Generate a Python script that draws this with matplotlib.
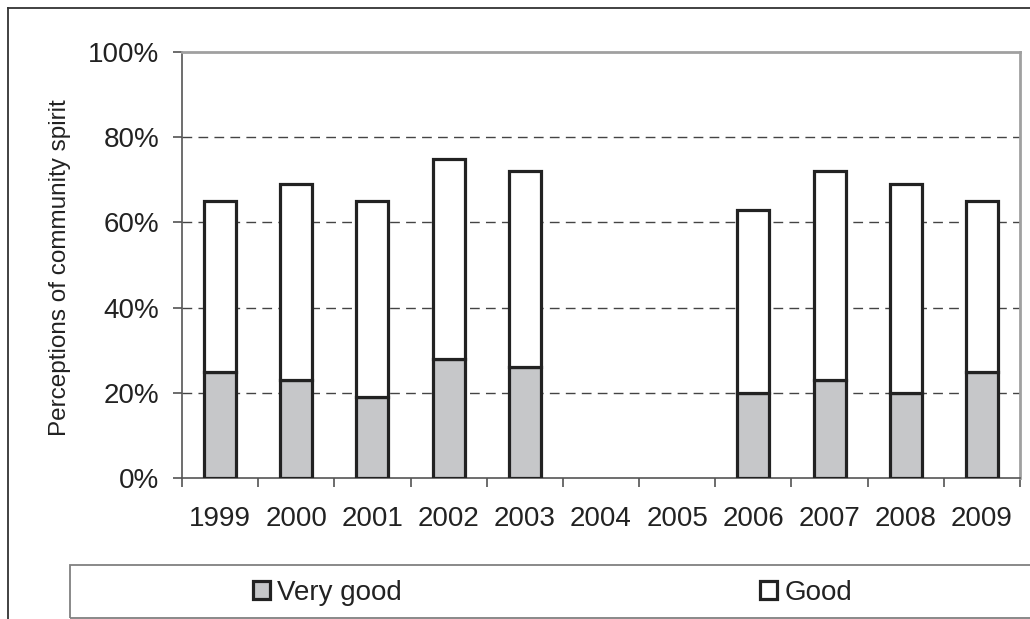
import matplotlib
matplotlib.use("Agg")
import matplotlib.pyplot as plt
from matplotlib.lines import Line2D
from matplotlib.patches import Rectangle
from matplotlib.ticker import FixedLocator, PercentFormatter
import numpy as np

plt.rcParams["font.family"] = ["Liberation Sans", "DejaVu Sans"]

years = ["1999", "2000", "2001", "2002", "2003", "2004", "2005",
         "2006", "2007", "2008", "2009"]
very_good = [25, 23, 19, 28, 26, np.nan, np.nan, 20, 23, 20, 25]
good = [40, 46, 46, 47, 46, np.nan, np.nan, 43, 49, 49, 40]

W, H = 1030, 619
fig = plt.figure(figsize=(W / 100, H / 100), dpi=100)
ax = fig.add_axes([182 / W, 1 - 478 / H, 838 / W, 426 / H])

x = np.arange(len(years))
bw = 0.42
b1 = ax.bar(x, very_good, bw, color="#c6c7c9", edgecolor="#222222",
            linewidth=2.3, zorder=3, label="Very good")
b2 = ax.bar(x, good, bw, bottom=very_good, color="white", edgecolor="#222222",
            linewidth=2.3, zorder=3, label="Good")

ax.set_xlim(-0.5, len(years) - 0.5)
ax.set_ylim(0, 100)
ax.yaxis.set_major_locator(FixedLocator([0, 20, 40, 60, 80, 100]))
ax.yaxis.set_major_formatter(PercentFormatter(decimals=0))

# ticks between categories, labels centred
ax.set_xticks(np.arange(len(years) + 1) - 0.5)
ax.set_xticklabels([])
ax.set_xticks(x, minor=True)
ax.set_xticklabels(years, minor=True)
ax.tick_params(axis="x", which="major", length=6.5, width=1.1, color="#444444", direction="out")
ax.tick_params(axis="x", which="minor", length=0, pad=20, labelsize=20, labelcolor="#222222")
ax.tick_params(axis="y", length=6.5, width=1.1, color="#444444", direction="out",
               pad=10, labelsize=20, labelcolor="#222222")

for y in [20, 40, 60, 80]:
    ax.axhline(y, color="#444444", linewidth=1.0, linestyle=(0, (7, 4.5)), zorder=1)

for side in ["top", "right"]:
    ax.spines[side].set_color("#a0a0a0")
    ax.spines[side].set_linewidth(2.0)
for side in ["left", "bottom"]:
    ax.spines[side].set_color("#555555")
    ax.spines[side].set_linewidth(1.2)

fig.text(60 / W, 1 - 268 / H, "Perceptions of community spirit", rotation=90,
         ha="center", va="center", fontsize=17.5, color="#222222")

# outer chart frame (cropped on the right and bottom)
fig.add_artist(Line2D([8 / W, 1.0], [1 - 8 / H, 1 - 8 / H], color="#333333",
                      linewidth=1.3, transform=fig.transFigure))
fig.add_artist(Line2D([8 / W, 8 / W], [1 - 8 / H, 0.0], color="#333333",
                      linewidth=1.3, transform=fig.transFigure))

# legend box
fig.add_artist(Rectangle((70 / W, 1 - 618 / H), (1040 - 70) / W, (618 - 565) / H,
                         transform=fig.transFigure, facecolor="none",
                         edgecolor="#808080", linewidth=1.3))
leg = fig.legend(handles=[b1, b2], loc="center left",
                 bbox_to_anchor=(253 / W, 1 - 593 / H), ncol=2, frameon=False,
                 fontsize=20, handlelength=0.62, handleheight=0.62,
                 handletextpad=0.25, columnspacing=12.9, borderpad=0,
                 borderaxespad=0)
for t in leg.get_texts():
    t.set_color("#222222")

fig.savefig("out.png", dpi=100)
